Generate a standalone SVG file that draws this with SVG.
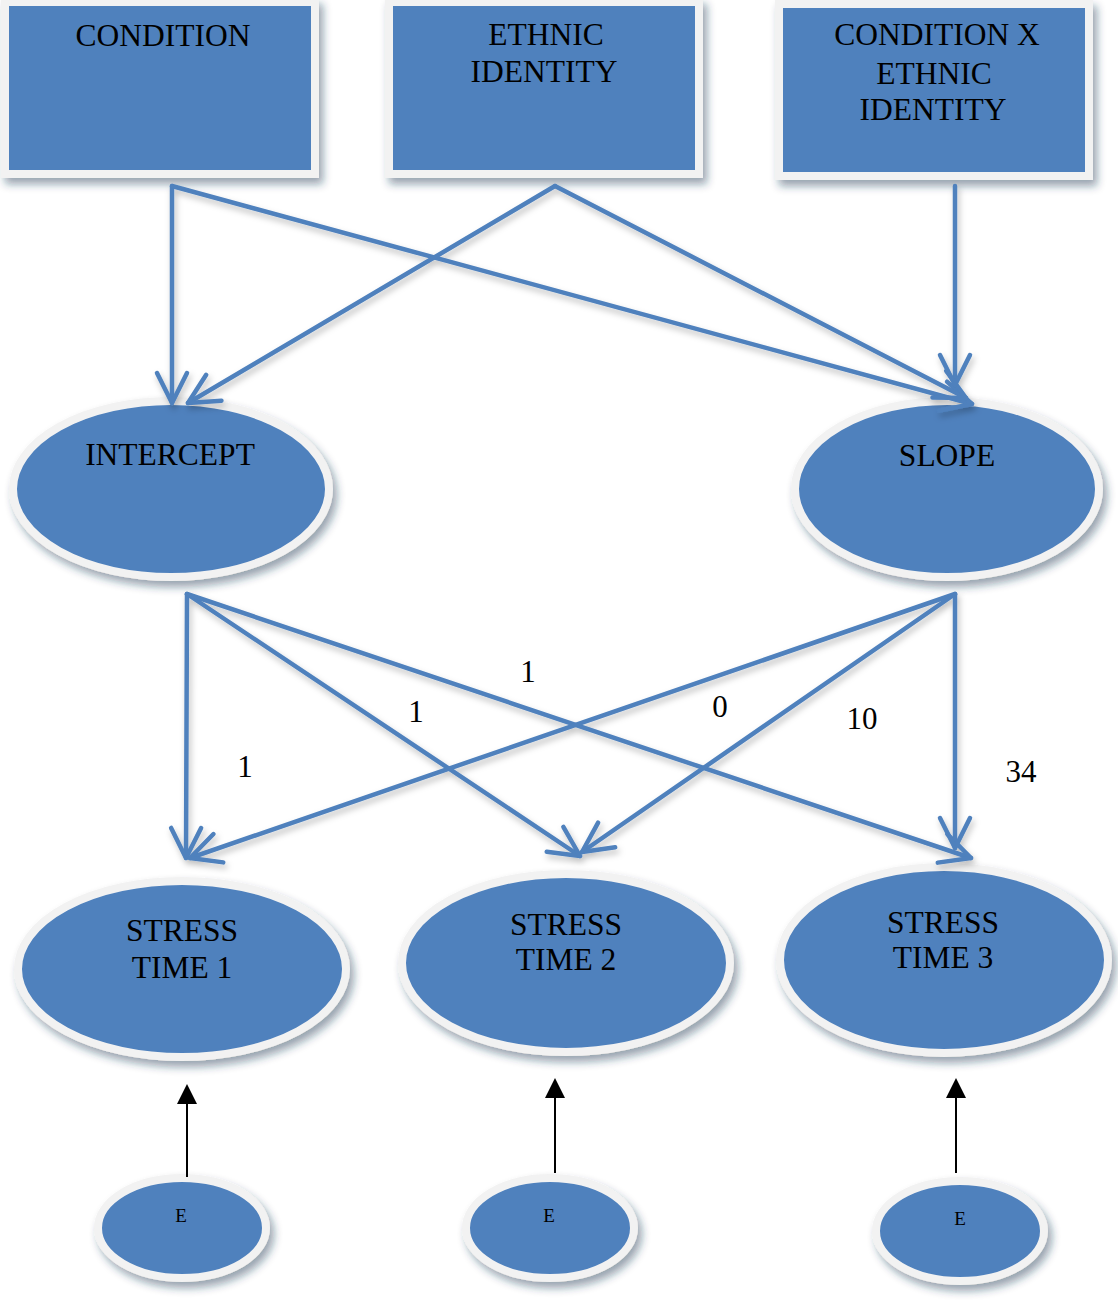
<svg xmlns="http://www.w3.org/2000/svg" width="1118" height="1300" viewBox="0 0 1118 1300">
  <defs>
    <filter id="shadow" x="-20%" y="-20%" width="140%" height="150%">
      <feDropShadow dx="4" dy="6" stdDeviation="4" flood-color="#1f3350" flood-opacity="0.45"/>
    </filter>
    <filter id="lineShadow" x="-10%" y="-10%" width="120%" height="120%">
      <feDropShadow dx="2" dy="4" stdDeviation="3" flood-color="#000" flood-opacity="0.25"/>
    </filter>
    <marker id="openArrow" markerUnits="userSpaceOnUse" viewBox="-36 -20 40 40" refX="0" refY="0" markerWidth="40" markerHeight="40" orient="auto">
      <path d="M-30,-15 L0,0 L-30,15" fill="none" stroke="#4f81bd" stroke-width="4.5" stroke-linecap="round" stroke-linejoin="round"/>
    </marker>
    <marker id="blackArrow" markerUnits="userSpaceOnUse" viewBox="0 -10 20 20" refX="18" refY="0" markerWidth="20" markerHeight="20" orient="auto">
      <path d="M0,-10 L20,0 L0,10 Z" fill="#000"/>
    </marker>
  </defs>
  <style>
    .node { fill: #4f81bd; stroke: #f2f2f2; stroke-width: 8; filter: url(#shadow); }
    .lbl { font-family: "Liberation Serif", "Times New Roman", serif; font-size: 31.5px; fill: #000; text-anchor: middle; }
    .small { font-family: "Liberation Serif", "Times New Roman", serif; font-size: 19px; fill: #000; text-anchor: middle; }
    .edge { stroke: #4f81bd; stroke-width: 4.5; fill: none; stroke-linecap: round; marker-end: url(#openArrow); }
    .err { stroke: #000; stroke-width: 2; fill: none; marker-end: url(#blackArrow); }
    .num { font-family: "Liberation Serif", "Times New Roman", serif; font-size: 31px; fill: #000; text-anchor: middle; }
  </style>

  <rect width="1118" height="1300" fill="#fff"/>

  <!-- predictor boxes -->
  <g id="condition">
    <rect class="node" x="5" y="2" width="310" height="172"/>
    <text class="lbl" x="163" y="46">CONDITION</text>
  </g>
  <g id="ethnic-identity">
    <rect class="node" x="389" y="2" width="310" height="172"/>
    <text class="lbl" x="546" y="45">ETHNIC</text>
    <text class="lbl" x="544" y="82">IDENTITY</text>
  </g>
  <g id="condition-x-ethnic">
    <rect class="node" x="779" y="4" width="310" height="172"/>
    <text class="lbl" x="937" y="45">CONDITION X</text>
    <text class="lbl" x="934" y="84">ETHNIC</text>
    <text class="lbl" x="933" y="120">IDENTITY</text>
  </g>

  <!-- growth factors -->
  <g id="intercept">
    <ellipse class="node" cx="171" cy="489" rx="158" ry="88"/>
    <text class="lbl" x="170" y="465">INTERCEPT</text>
  </g>
  <g id="slope">
    <ellipse class="node" cx="947" cy="489" rx="152" ry="88"/>
    <text class="lbl" x="947" y="466">SLOPE</text>
  </g>

  <!-- repeated measures -->
  <g id="stress-time-1">
    <ellipse class="node" cx="182" cy="969" rx="164" ry="88"/>
    <text class="lbl" x="182" y="941">STRESS</text>
    <text class="lbl" x="182" y="978">TIME 1</text>
  </g>
  <g id="stress-time-2">
    <ellipse class="node" cx="566" cy="963" rx="164" ry="89"/>
    <text class="lbl" x="566" y="935">STRESS</text>
    <text class="lbl" x="566" y="970">TIME 2</text>
  </g>
  <g id="stress-time-3">
    <ellipse class="node" cx="944" cy="960" rx="164" ry="93"/>
    <text class="lbl" x="943" y="933">STRESS</text>
    <text class="lbl" x="943" y="968">TIME 3</text>
  </g>

  <!-- residual terms -->
  <g id="e1">
    <ellipse class="node" cx="182" cy="1228" rx="84" ry="50"/>
    <text class="small" x="181" y="1222">E</text>
  </g>
  <g id="e2">
    <ellipse class="node" cx="550" cy="1228" rx="84" ry="50"/>
    <text class="small" x="549" y="1222">E</text>
  </g>
  <g id="e3">
    <ellipse class="node" cx="960" cy="1231" rx="84" ry="50"/>
    <text class="small" x="960" y="1225">E</text>
  </g>

  <!-- paths -->
  <g id="connectors">
    <g filter="url(#lineShadow)">
      <line class="edge" x1="172" y1="186" x2="172" y2="403"/>
      <line class="edge" x1="172" y1="186" x2="972" y2="404"/>
      <line class="edge" x1="555" y1="186" x2="188" y2="403"/>
      <line class="edge" x1="555" y1="186" x2="966" y2="398"/>
      <line class="edge" x1="955" y1="186" x2="955" y2="385"/>

      <line class="edge" x1="187" y1="594" x2="186" y2="858"/>
      <line class="edge" x1="187" y1="594" x2="580" y2="856"/>
      <line class="edge" x1="187" y1="594" x2="971" y2="858"/>
      <line class="edge" x1="955" y1="594" x2="190" y2="858"/>
      <line class="edge" x1="955" y1="594" x2="582" y2="852"/>
      <line class="edge" x1="955" y1="594" x2="955" y2="848"/>
    </g>

    <line class="err" x1="187" y1="1177" x2="187" y2="1086"/>
    <line class="err" x1="555" y1="1173" x2="555" y2="1080"/>
    <line class="err" x1="956" y1="1173" x2="956" y2="1080"/>

    <text class="num" x="245" y="777">1</text>
    <text class="num" x="416" y="722">1</text>
    <text class="num" x="528" y="682">1</text>
    <text class="num" x="720" y="717">0</text>
    <text class="num" x="862" y="729">10</text>
    <text class="num" x="1021" y="782">34</text>
  </g>
</svg>
